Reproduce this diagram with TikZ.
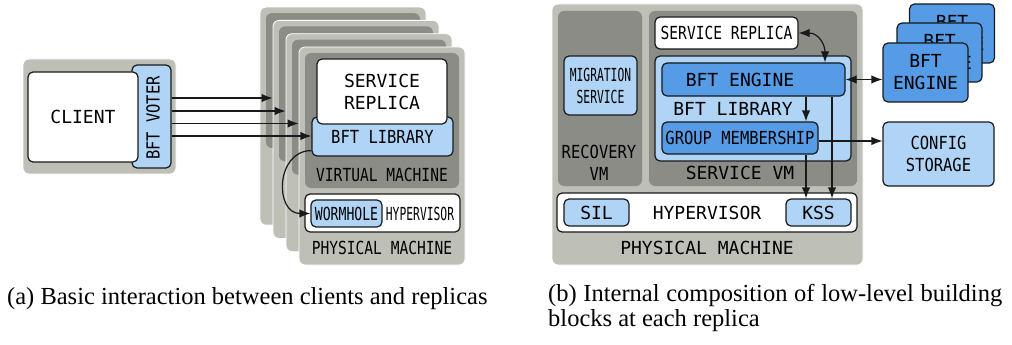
\documentclass[tikz,border=0pt]{standalone}
\usepackage{fontspec}
\setmainfont{Liberation Serif}
\newfontfamily\monofull{DejaVu Sans Mono}
\newfontfamily\monoA[FakeStretch=0.86]{DejaVu Sans Mono}
\newfontfamily\monoB[FakeStretch=0.81]{DejaVu Sans Mono}
\newfontfamily\monoC[FakeStretch=0.73]{DejaVu Sans Mono}
\newfontfamily\monoD[FakeStretch=0.63]{DejaVu Sans Mono}
\newcommand\dsz{\fontsize{18}{22}\selectfont}
\usetikzlibrary{positioning,arrows.meta}
\definecolor{pmgray}{RGB}{190,192,184}
\definecolor{vmgray}{RGB}{138,140,133}
\definecolor{libblue}{RGB}{175,212,245}
\definecolor{engblue}{RGB}{85,155,230}
\definecolor{edgeblack}{RGB}{25,25,25}

\begin{document}
\begin{tikzpicture}[x=1pt, y=-1pt, >={Latex[length=11pt,width=8.5pt]}]
    \tikzstyle{pmbox} = [fill=pmgray, draw=white, line width=0.8pt, rounded corners=6pt, inner sep=0pt]
    \tikzstyle{vmbox} = [fill=vmgray, rounded corners=6pt, inner sep=0pt]
    \tikzstyle{whitebox} = [draw=edgeblack, line width=1.2pt, fill=white, rounded corners=5pt, inner sep=0pt, align=center, font=\dsz\monofull]
    \tikzstyle{lightbox} = [whitebox, fill=libblue]
    \tikzstyle{enginebox} = [whitebox, fill=engblue]
    \tikzstyle{tag} = [inner sep=0pt, align=center, font=\dsz\monofull]
    \tikzstyle{arr} = [->, line width=1.2pt, edgeblack]
    \tikzstyle{caption} = [inner sep=0pt, font=\fontsize{24.5}{25}\selectfont]
    \useasboundingbox (0,0) rectangle (1012,345);

    % client side with its voter
    \node[pmbox, minimum width=153pt, minimum height=115pt] (clientpm) at (99.5,116.5) {};
    \node[lightbox, minimum width=39pt, minimum height=103pt] (voter) at (151.5,116.5) {};
    \node[tag, font=\dsz\monoA, rotate=90] (votertxt) at (153,118) {BFT VOTER};
    \node[whitebox, minimum width=110pt, minimum height=90pt] (client) at (83,117) {CLIENT};

    % stacked replicas, back to front
    \foreach \k in {0,...,3}
    {
        \begin{scope}[shift={({-13*(3-\k)},{-13.3*(3-\k)})}]
            \node[pmbox, minimum width=166pt, minimum height=218pt] (pm\k) at (382,156) {};
            \node[vmbox, minimum width=154pt, minimum height=135pt] (vm\k) at (382,120.5) {};
        \end{scope}
    }
    \node[lightbox, minimum width=141pt, minimum height=39pt] (lib) at (382.5,136.5) {\raisebox{-3.5pt}{\monoA BFT LIBRARY}};
    \node[whitebox, minimum width=130pt, minimum height=65pt] (replica) at (382,91.5) {SERVICE\\REPLICA};
    \node[tag, font=\dsz\monoB] (vmtxt) at (382,175) {VIRTUAL MACHINE};
    \node[whitebox, minimum width=155pt, minimum height=38pt] (hyp) at (382.5,213) {};
    \node[lightbox, minimum width=71pt, minimum height=27pt, font=\dsz\monoC] (worm) at (346.5,213.5) {WORMHOLE};
    \node[tag, font=\dsz\monoD] (hyptxt) at (420,213.5) {HYPERVISOR};
    \node[tag, font=\dsz\monoB] (pmtxt) at (382,248) {PHYSICAL MACHINE};

    % requests from the voter
    \draw[arr] (voter.east |- 0,98) -- (pm1.west |- 0,98);
    \draw[arr] (voter.east |- 0,111) -- (pm2.west |- 0,111);
    \draw[arr] (voter.east |- 0,123.5) -- (pm3.west |- 0,123.5);
    \draw[arr] (voter.east |- 0,136) -- (lib.west |- 0,136);
    \draw[arr] ([yshift=6pt]lib.south west) .. controls +(-36,0) and +(-36,0) .. (worm.west);

    % inside one replica
    \node[pmbox, minimum width=311pt, minimum height=261pt] (rpm) at (707.5,134.5) {};
    \node[vmbox, minimum width=84pt, minimum height=175pt] (recvm) at (600,98.5) {};
    \node[lightbox, minimum width=73pt, minimum height=59pt, font=\dsz\monoD] (migr) at (600.5,85.5) {MIGRATION\\SERVICE};
    \node[tag, font=\dsz\monoA] (rectxt) at (599,162.5) {RECOVERY\\VM};
    \node[vmbox, minimum width=208pt, minimum height=175pt] (svm) at (753,98.5) {};
    \node[tag] (svmtxt) at (740,173) {SERVICE VM};
    \node[whitebox, minimum width=143pt, minimum height=32pt, font=\dsz\monoB] (rrep) at (726.5,33) {SERVICE REPLICA};
    \node[lightbox, minimum width=196pt, minimum height=105pt] (rlib) at (753,108.5) {};
    \node[enginebox, minimum width=183pt, minimum height=33pt] (engine) at (753.5,79.5) {};
    \node[tag] (enginetxt) at (740,80) {BFT ENGINE};
    \node[tag] (rlibtxt) at (733,109) {BFT LIBRARY};
    \node[enginebox, minimum width=156pt, minimum height=32pt, font=\dsz\monoA] (group) at (740,138) {GROUP MEMBERSHIP};
    \node[whitebox, minimum width=300pt, minimum height=39pt] (rhyp) at (707,212.5) {};
    \node[lightbox, minimum width=65pt, minimum height=27pt] (sil) at (596.5,212.5) {SIL};
    \node[lightbox, minimum width=65pt, minimum height=27pt] (kss) at (818.5,212.5) {KSS};
    \node[tag] (rhyptxt) at (707,212.5) {HYPERVISOR};
    \node[tag] (rpmtxt) at (707,248) {PHYSICAL MACHINE};

    % other replicas and the configuration store
    \foreach \n/\x/\y in {2/952/33.5, 1/939.5/52.5, 0/925.5/72.5}
        \node[enginebox, minimum width=85pt, minimum height=59pt] (peer\n) at (\x,\y) {BFT\\ENGINE};
    \node[lightbox, minimum width=111pt, minimum height=64pt, font=\dsz\monoA] (config) at (938.5,154) {CONFIG\\STORAGE};

    \draw[arr, <->] (rrep.east) .. controls +(20,0) and +(0,-18) .. (engine.north -| 825,0);
    \draw[arr, <->] (engine.east) -- (engine.east -| peer0.west);
    \draw[arr] (engine.south -| 806,0) -- (group.north -| 806,0);
    \draw[arr] (group.south -| 806,0) -- (kss.north -| 806,0);
    \draw[arr] (engine.south -| 832,0) -- (kss.north -| 832,0);
    \draw[arr] ([yshift=-3pt]group.east) -- ([yshift=-3pt]group.east -| config.west);

    % captions
    \node[caption, anchor=base west] (capa) at (7,304) {(a) Basic interaction between clients and replicas};
    \node[caption, anchor=north west, text width=454pt, align=justify] (capb) at (548,284) {(b) Internal composition of low-level building\linebreak blocks at each replica};
\end{tikzpicture}
\end{document}
